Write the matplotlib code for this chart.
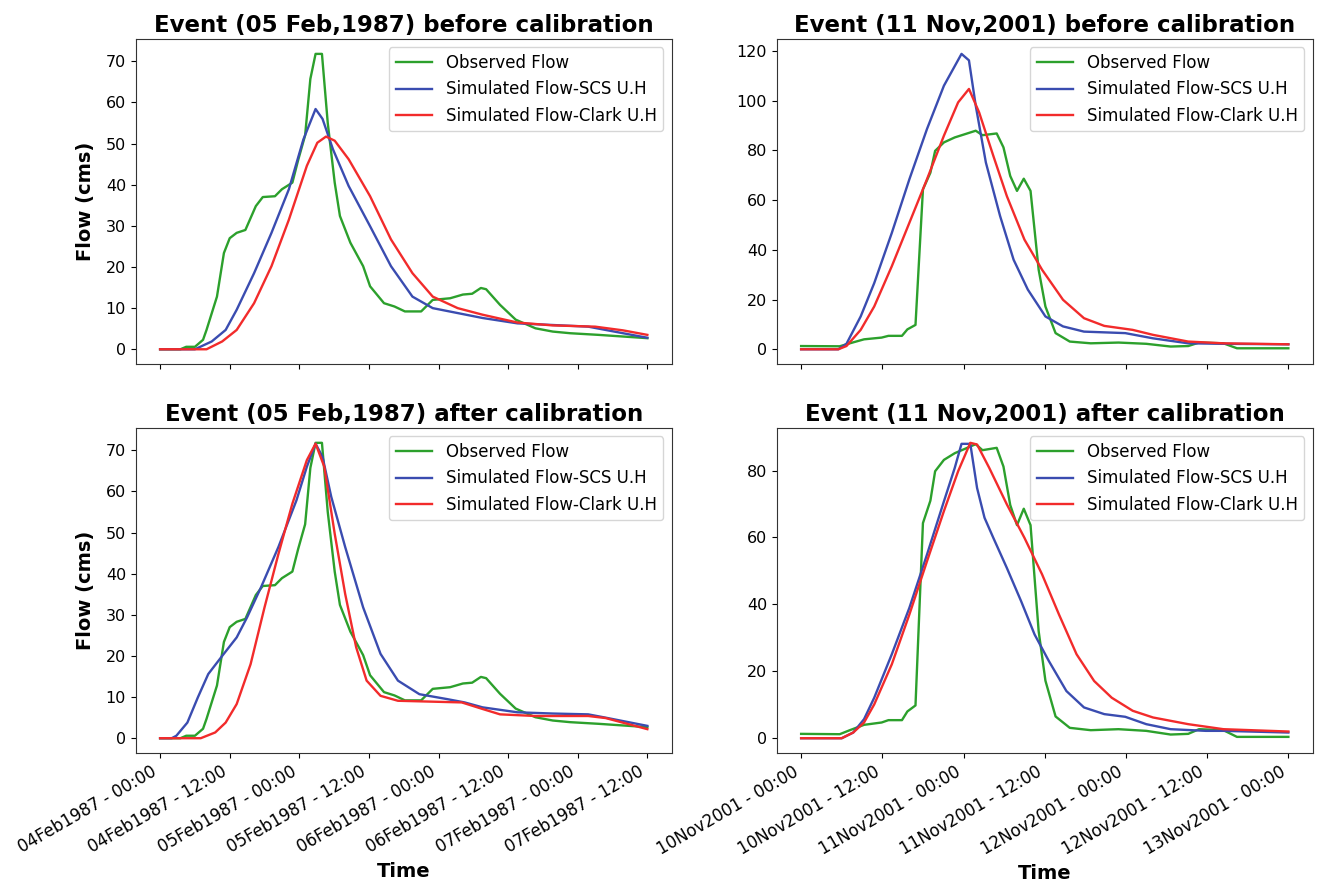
import numpy as np
import pandas as pd
import matplotlib
matplotlib.use("Agg")
import matplotlib.pyplot as plt
import matplotlib.dates as mdates

# ---------------- Event 05 Feb 1987 (hours from 04Feb1987 00:00) ----------------
feb_start = "1987-02-04 00:00"
feb_obs_h = [0, 3.5, 4.5, 6.0, 7.4, 8.0, 9.8, 11.0, 12.0, 13.2, 14.7, 16.5, 17.7, 19.8,
             21.0, 22.8, 23.8, 25.0, 25.9, 26.8, 27.9, 28.9, 30.1, 31.0, 32.8, 35.0,
             36.2, 38.6, 40.4, 42.2, 45.0, 47.0, 50.0, 52.2, 53.8, 55.3, 56.2, 58.6,
             61.3, 64.7, 67.7, 70.7, 75.6, 79.8, 84.0]
feb_obs_q = [0, 0, 0.6, 0.6, 2.3, 4.7, 12.8, 23.4, 27.0, 28.3, 29.0, 34.8, 37.0, 37.2,
             38.9, 40.5, 46.0, 52.0, 65.7, 71.8, 71.8, 55.0, 40.5, 32.4, 25.9, 20.2,
             15.3, 11.2, 10.4, 9.2, 9.2, 12.0, 12.4, 13.3, 13.5, 14.9, 14.6, 10.8,
             7.2, 5.1, 4.3, 3.9, 3.5, 3.1, 2.7]

feb_scs_before_h = [0, 6.0, 8.9, 11.3, 13.2, 16.2, 19.2, 22.2, 24.7, 26.8, 28.0, 29.8,
                    32.5, 36.2, 39.8, 43.5, 47.0, 51.3, 55.6, 61.6, 67.7, 73.8, 79.8, 84.0]
feb_scs_before_q = [0, 0, 1.9, 4.7, 9.6, 18.5, 28.3, 38.9, 51.0, 58.4, 56.0, 48.6,
                    39.7, 29.9, 20.2, 12.8, 10.0, 8.8, 7.6, 6.3, 5.9, 5.5, 3.9, 2.8]

feb_clark_before_h = [0, 8.0, 10.7, 13.2, 16.2, 19.2, 22.2, 25.3, 27.1, 28.6, 30.1,
                      32.5, 36.2, 39.8, 43.5, 47.0, 51.3, 55.6, 61.6, 67.7, 75.0, 79.8, 84.0]
feb_clark_before_q = [0, 0, 1.9, 4.7, 11.2, 20.2, 31.5, 44.6, 50.2, 51.7, 50.7,
                      46.2, 37.2, 26.7, 18.5, 12.8, 10.0, 8.4, 6.5, 5.8, 5.5, 4.6, 3.5]

feb_scs_after_h = [0, 2.0, 2.8, 4.7, 6.5, 8.3, 10.7, 13.2, 15.0, 17.4, 20.4, 23.5, 25.3,
                   26.8, 28.0, 29.5, 31.9, 35.0, 38.0, 41.0, 44.7, 49.5, 52.5, 55.6,
                   61.6, 67.7, 73.8, 76.8, 84.0]
feb_scs_after_q = [0, 0, 0.6, 3.8, 9.9, 15.6, 20.0, 24.5, 29.4, 36.7, 46.5, 57.8, 66.0,
                   71.6, 68.4, 58.7, 46.5, 31.8, 20.5, 14.0, 10.7, 9.5, 8.7, 7.5,
                   6.3, 6.0, 5.8, 5.0, 3.0]

feb_clark_after_h = [0, 7.0, 9.5, 11.3, 13.2, 15.6, 18.0, 20.4, 22.8, 25.3, 26.8, 28.3,
                     30.1, 31.9, 33.8, 35.6, 38.0, 41.0, 46.5, 52.0, 55.6, 58.6, 64.7,
                     73.8, 76.8, 84.0]
feb_clark_after_q = [0, 0, 1.4, 3.8, 8.3, 18.0, 31.8, 44.8, 57.0, 67.6, 71.6, 66.0,
                     49.7, 35.1, 22.1, 14.0, 10.3, 9.1, 8.9, 8.7, 7.1, 5.8, 5.4,
                     5.4, 4.9, 2.2]

# ---------------- Event 11 Nov 2001 (hours from 10Nov2001 00:00) ----------------
nov_start = "2001-11-10 00:00"
nov_obs_h = [0, 5.7, 7.2, 9.3, 11.9, 12.9, 14.9, 15.7, 16.9, 18.0, 19.1, 19.8, 21.1,
             22.7, 24.2, 25.8, 26.8, 28.9, 29.9, 30.9, 31.9, 32.9, 33.9, 35.1, 36.1,
             37.6, 39.7, 42.8, 46.9, 51.0, 54.6, 57.2, 58.8, 62.4, 64.4, 72.0]
nov_obs_q = [1.3, 1.2, 2.4, 4.0, 4.7, 5.4, 5.4, 8.0, 9.8, 64.3, 71.0, 79.8, 83.2,
             85.2, 86.5, 87.9, 86.1, 86.8, 81.2, 69.7, 63.7, 68.6, 63.7, 32.0, 17.2,
             6.5, 3.1, 2.4, 2.7, 2.2, 1.1, 1.3, 2.7, 2.4, 0.4, 0.4]

nov_scs_before_h = [0, 5.5, 6.7, 8.8, 10.8, 13.4, 16.0, 18.6, 21.1, 23.7, 24.8, 25.8,
                    27.3, 29.4, 31.4, 33.5, 36.1, 38.7, 41.8, 47.9, 52.0, 57.2, 62.4, 72.0]
nov_scs_before_q = [0, 0, 2.2, 13.2, 26.6, 46.8, 68.4, 88.6, 106.0, 118.8, 116.2, 98.0,
                    75.1, 53.6, 36.0, 24.0, 13.2, 9.2, 7.1, 6.5, 4.4, 2.4, 2.2, 2.0]

nov_clark_before_h = [0, 5.5, 6.7, 8.8, 10.8, 13.4, 16.0, 18.6, 21.1, 23.2, 24.8, 26.3,
                      28.4, 30.4, 33.0, 35.6, 38.7, 41.8, 44.8, 49.0, 52.0, 57.2, 62.4, 72.0]
nov_clark_before_q = [0, 0, 1.3, 7.8, 17.2, 33.4, 50.9, 68.4, 85.9, 99.3, 104.7, 95.3,
                      77.8, 61.6, 44.1, 32.0, 19.9, 12.5, 9.4, 7.8, 5.8, 3.1, 2.4, 2.0]

nov_scs_after_h = [0, 6.0, 7.7, 9.3, 10.8, 13.4, 16.0, 18.6, 21.1, 22.7, 23.7, 25.0,
                   26.0, 27.1, 28.4, 30.4, 32.5, 34.5, 36.6, 39.2, 41.8, 44.8, 47.9,
                   51.0, 54.6, 59.8, 62.4, 72.0]
nov_scs_after_q = [0, 0, 1.7, 5.7, 12.1, 25.1, 39.0, 54.9, 70.8, 80.8, 88.0, 88.0,
                   74.8, 65.9, 59.9, 50.9, 41.0, 31.0, 23.1, 14.1, 9.2, 7.2, 6.4,
                   4.2, 2.7, 2.2, 2.2, 1.7]

nov_clark_after_h = [0, 6.0, 7.7, 9.3, 10.8, 13.4, 16.0, 18.6, 21.1, 23.2, 25.0, 26.0,
                     27.8, 30.4, 33.0, 35.6, 38.1, 40.7, 43.3, 45.9, 49.0, 52.0, 57.2,
                     62.4, 72.0]
nov_clark_after_q = [0, 0, 1.7, 4.7, 10.1, 22.1, 37.0, 52.9, 67.9, 79.8, 88.3, 87.8,
                     80.8, 69.9, 59.9, 49.0, 37.0, 25.1, 17.1, 12.1, 8.2, 6.2, 4.2,
                     2.7, 2.0]

series_labels = ["Observed Flow", "Simulated Flow-SCS U.H", "Simulated Flow-Clark U.H"]
series_colors = ["#2ca02c", "#3a4cb0", "#f22b2b"]

titles = [["Event (05 Feb,1987) before calibration", "Event (11 Nov,2001) before calibration"],
          ["Event (05 Feb,1987) after calibration", "Event (11 Nov,2001) after calibration"]]


def to_time(start, hours):
    return pd.Timestamp(start) + pd.to_timedelta(np.asarray(hours, dtype=float), unit="h")


panels = [
    [(feb_start, [(feb_obs_h, feb_obs_q), (feb_scs_before_h, feb_scs_before_q),
                  (feb_clark_before_h, feb_clark_before_q)]),
     (nov_start, [(nov_obs_h, nov_obs_q), (nov_scs_before_h, nov_scs_before_q),
                  (nov_clark_before_h, nov_clark_before_q)])],
    [(feb_start, [(feb_obs_h, feb_obs_q), (feb_scs_after_h, feb_scs_after_q),
                  (feb_clark_after_h, feb_clark_after_q)]),
     (nov_start, [(nov_obs_h, nov_obs_q), (nov_scs_after_h, nov_scs_after_q),
                  (nov_clark_after_h, nov_clark_after_q)])],
]

fig, axes = plt.subplots(2, 2, figsize=(13.18, 8.89), dpi=100, sharex="col")
fig.subplots_adjust(left=0.103, right=0.996, bottom=0.153, top=0.956,
                    wspace=0.196, hspace=0.197)

for r in range(2):
    for c in range(2):
        ax = axes[r, c]
        start, data = panels[r][c]
        for (h, q), lab, col in zip(data, series_labels, series_colors):
            ax.plot(to_time(start, h), q, color=col, lw=1.7, label=lab)
        ax.set_title(titles[r][c], fontsize=16.5, fontweight="bold", pad=5)
        ax.legend(loc="upper right", fontsize=12, handlelength=2.2)
        ax.xaxis.set_major_locator(mdates.HourLocator(byhour=[0, 12]))
        ax.xaxis.set_major_formatter(mdates.DateFormatter("%d%b%Y - %H:%M"))
        ax.tick_params(axis="y", labelsize=11.5)
        ax.tick_params(axis="x", labelsize=12)
        for s in ax.spines.values():
            s.set_color("#333333")
        if c == 0:
            ax.set_ylabel("Flow (cms)", fontsize=14, fontweight="bold", labelpad=8)
        if r == 1:
            ax.set_xlabel("Time", fontsize=14, fontweight="bold")

for ax in axes[1]:
    for lbl in ax.get_xticklabels():
        lbl.set_rotation(30)
        lbl.set_ha("right")
for ax in axes[0]:
    ax.tick_params(labelbottom=False)

fig.savefig("out.png", dpi=100)
